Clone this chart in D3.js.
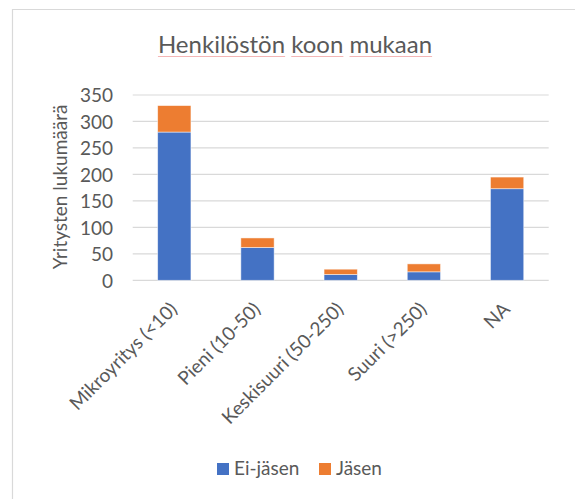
<!DOCTYPE html>
<html>
<head>
<meta charset="utf-8">
<script src="https://cdn.jsdelivr.net/npm/d3@7"></script>
<style>
  body { margin: 0; background: #fff; }
  text { font-family: Lato, "Open Sans", sans-serif; fill: #595959; }
</style>
</head>
<body>
<svg></svg>
<script>
var width = 575;
var height = 499;

var categories = ["Mikroyritys (<10)", "Pieni (10-50)", "Keskisuuri (50-250)", "Suuri (>250)", "NA"];
var eiJasen = [280, 62, 11, 16, 173];
var jasen = [50, 18, 10, 15, 22];
var yTicks = [0, 50, 100, 150, 200, 250, 300, 350];
var seriesNames = ["Ei-jäsen", "Jäsen"];
var colors = ["#4472C4", "#ED7D31"];
var titleText = "Henkilöstön koon mukaan";

var rows = categories.map((c, i) => ({ cat: c, "Ei-jäsen": eiJasen[i], "Jäsen": jasen[i] }));

var svg = d3.select("svg")
              .attr("width", width)
              .attr("height", height);

// chart frame (only top and left edges are in view)
svg.append("path")
   .attr("d", "M12.5," + height + "V9.5H" + width)
   .attr("fill", "none")
   .attr("stroke", "#D9D9D9")
   .attr("stroke-width", 1.2);

var x = d3.scaleBand()
          .domain(categories)
          .range([132.7, 548.7])
          .paddingInner(0.6)
          .paddingOuter(0.3);

var y = d3.scaleLinear()
          .domain([0, 350])
          .range([280.3, 95]);

// gridlines
svg.append("g")
   .selectAll("line")
   .data(yTicks)
   .enter()
   .append("line")
     .attr("x1", 132.7)
     .attr("x2", 548.7)
     .attr("y1", d => y(d))
     .attr("y2", d => y(d))
     .attr("stroke", "#D9D9D9")
     .attr("stroke-width", 1.2);

// y axis labels
var yAxis = svg.append("g")
               .attr("transform", "translate(113,0)")
               .call(d3.axisLeft(y).tickValues(yTicks).tickSize(0).tickPadding(0));
yAxis.select(".domain").remove();
yAxis.selectAll("text")
     .attr("font-size", 19)
     .attr("font-family", null)
     .attr("fill", null)
     .attr("dy", "0.36em");

// stacked bars
var layers = d3.stack().keys(seriesNames)(rows);

svg.append("g")
   .selectAll("g")
   .data(layers)
   .enter()
   .append("g")
     .attr("fill", (d, i) => colors[i])
   .selectAll("rect")
   .data(d => d)
   .enter()
   .append("rect")
     .attr("x", d => x(d.data.cat))
     .attr("width", x.bandwidth())
     .attr("y", d => y(d[1]))
     .attr("height", d => y(d[0]) - y(d[1]))
     .attr("stroke", "#fff")
     .attr("stroke-opacity", 0.6)
     .attr("stroke-width", 0.8);

// x axis labels, rotated
var xAxis = svg.append("g")
               .attr("transform", "translate(0,280.3)")
               .call(d3.axisBottom(x).tickSize(0).tickPadding(0));
xAxis.select(".domain").remove();
xAxis.selectAll("text")
     .attr("font-size", 19)
     .attr("font-family", null)
     .attr("fill", null)
     .attr("y", 0)
     .attr("dy", 0)
     .attr("text-anchor", "end")
     .attr("transform", "translate(4,30) rotate(-45)");

// title
var title = svg.append("text")
   .attr("x", 295)
   .attr("y", 53)
   .attr("text-anchor", "middle")
   .attr("font-size", 24)
   .text(titleText);

// faint spell-check underlines seen under the title words
var tnode = title.node();
var tStart = tnode.getStartPositionOfChar(0).x;
var pos = 0;
titleText.split(" ").forEach(w => {
  var x0 = tStart + tnode.getSubStringLength(0, pos);
  var wl = tnode.getSubStringLength(pos, w.length);
  svg.append("line")
     .attr("x1", x0).attr("x2", x0 + wl)
     .attr("y1", 56.5).attr("y2", 56.5)
     .attr("stroke", "#F4B6B6")
     .attr("stroke-width", 1);
  pos += w.length + 1;
});

// y axis title
svg.append("text")
   .attr("transform", "translate(67,187) rotate(-90)")
   .attr("text-anchor", "middle")
   .attr("font-size", 19)
   .text("Yritysten lukumäärä");

// legend
var legendX = [217, 319];
var legend = svg.append("g")
                .selectAll("g")
                .data(seriesNames)
                .enter()
                .append("g")
                  .attr("transform", (d, i) => "translate(" + legendX[i] + ",463)");
legend.append("rect")
      .attr("width", 12)
      .attr("height", 12)
      .attr("fill", (d, i) => colors[i]);
legend.append("text")
      .attr("x", 17)
      .attr("y", 12)
      .attr("font-size", 19)
      .text(d => d);
</script>
</body>
</html>
